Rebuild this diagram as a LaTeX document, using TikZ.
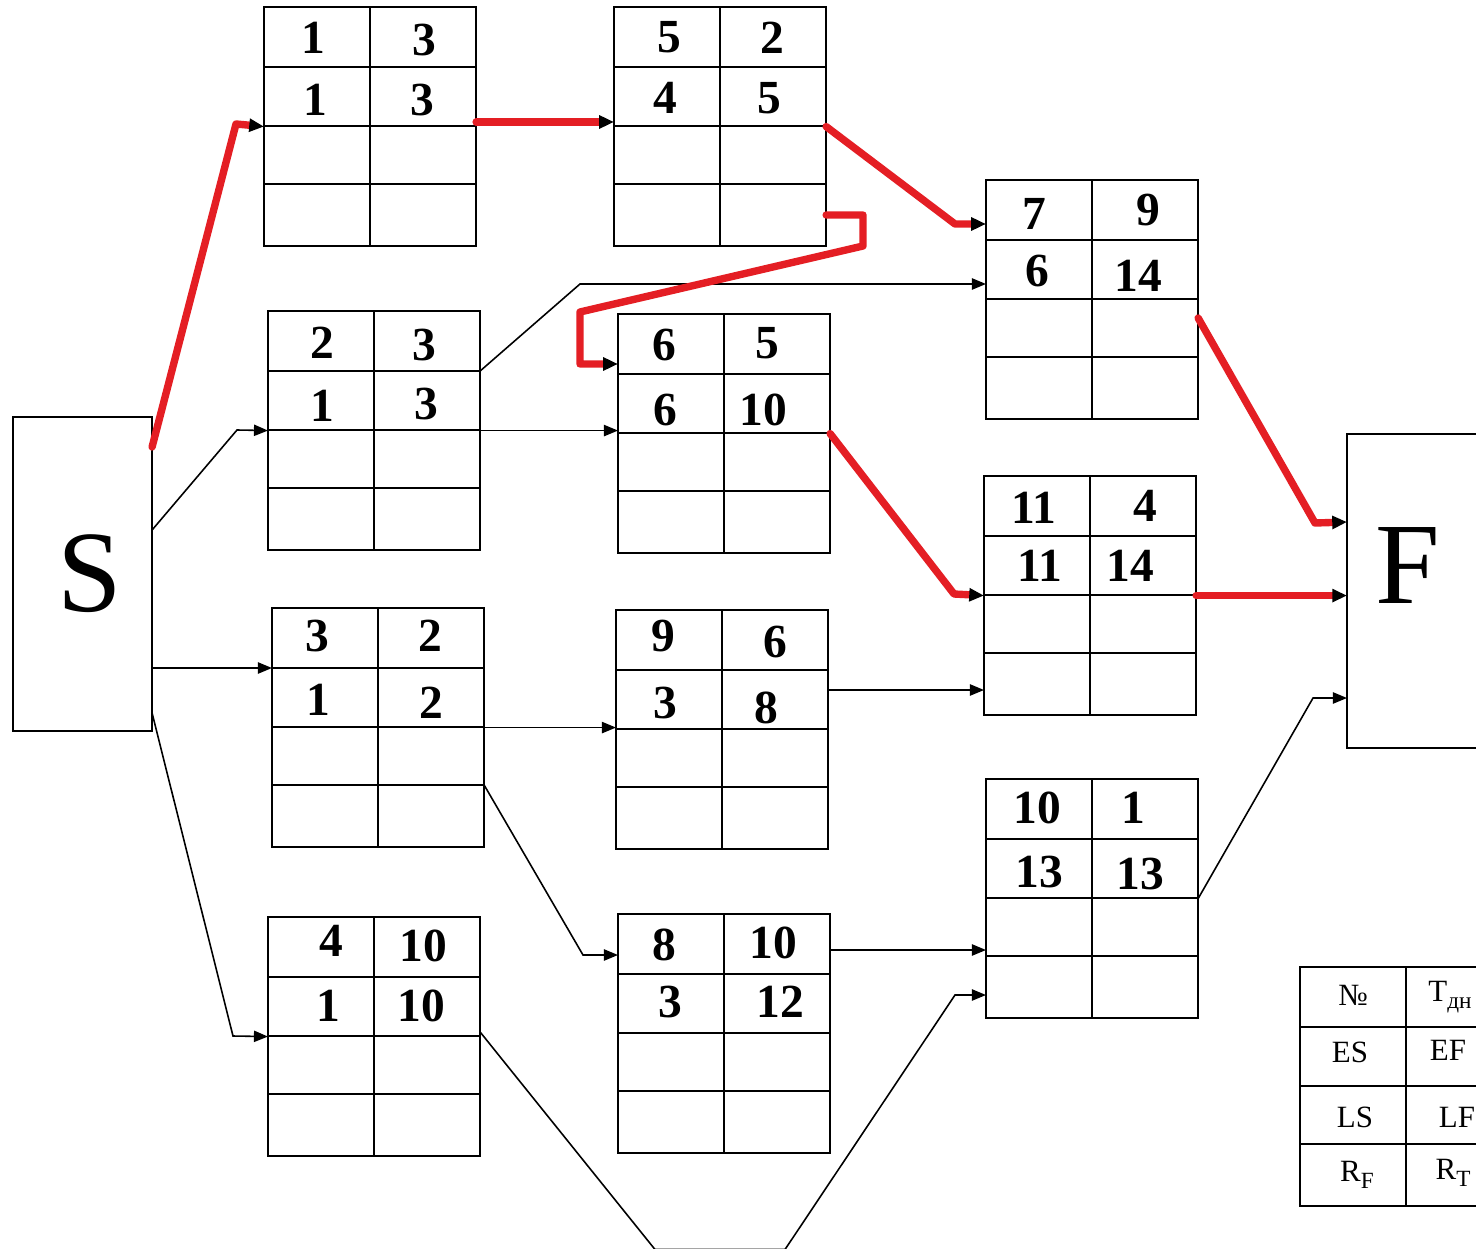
\documentclass[tikz,border=0pt]{standalone}
\usepackage{fontspec}
\setmainfont{Liberation Serif}
\usetikzlibrary{calc,arrows.meta}
\definecolor{cpred}{RGB}{228,30,36}
\newcommand\netbox[3]{%
  \node[cellbox, anchor=north west] (#1) at (#2,#3) {};
  \draw[gridline] (#1.north) -- (#1.south)
    ($(#1.north west)+(0,60)$) -- ($(#1.north east)+(0,60)$)
    ($(#1.north west)+(0,119)$) -- ($(#1.north east)+(0,119)$)
    ($(#1.north west)+(0,177)$) -- ($(#1.north east)+(0,177)$);
}
\begin{document}
\begin{tikzpicture}[x=0.01cm,y=-0.01cm,
  cellbox/.style={draw, line width=0.6pt, minimum width=2.12cm, minimum height=2.39cm, inner sep=0pt, outer sep=0pt},
  gridline/.style={line width=0.6pt},
  num/.style={font=\bfseries\fontsize{13.5}{14}\selectfont, inner sep=0pt},
  leg/.style={font=\fontsize{8.8}{9}\selectfont, inner sep=0pt},
  bigbox/.style={draw, line width=0.6pt, minimum width=1.39cm, minimum height=3.14cm, inner sep=0pt, outer sep=0pt, anchor=north west, font=\fontsize{33}{36}\selectfont},
  thinarrow/.style={line width=0.45pt, -{Triangle[length=4pt,width=3.2pt]}},
  crit/.style={cpred, line width=2.1pt, line join=round, line cap=round, -{Triangle[length=4.2pt,width=3.6pt,color=black]}},
]
\useasboundingbox (0,0) rectangle (1476,1249);
\clip (0,0) rectangle (1476,1249);

% start / finish
\node[bigbox] (S) at (13,417) {\hspace*{0.14cm}S};
\node[bigbox] (F) at (1347,434) {\raisebox{-0.12cm}[0pt][0pt]{F}\hspace*{0.18cm}};

% task tables
\netbox{t1}{264}{7}
\netbox{t5}{614}{7}
\netbox{t7}{986}{180}
\netbox{t2}{268}{311}
\netbox{t6}{618}{314}
\netbox{t11}{984}{476}
\netbox{t3}{272}{608}
\netbox{t9}{616}{610}
\netbox{t10}{986}{779}
\netbox{t4}{268}{917}
\netbox{t8}{618}{914}
\netbox{lg}{1300}{967}

% numbers
\node[num] (t1a) at (313,38) {1};  \node[num] (t1b) at (424,40) {3};
\node[num] (t1c) at (315,100) {1}; \node[num] (t1d) at (422,100) {3};
\node[num] (t5a) at (669,37) {5};  \node[num] (t5b) at (772,38) {2};
\node[num] (t5c) at (665,98) {4};  \node[num] (t5d) at (769,98) {5};
\node[num] (t7a) at (1034,214) {7}; \node[num] (t7b) at (1148,210) {9};
\node[num] (t7c) at (1037,271) {6}; \node[num] (t7d) at (1138,276) {14};
\node[num] (t2a) at (322,343) {2};  \node[num] (t2b) at (424,345) {3};
\node[num] (t2c) at (322,406) {1};  \node[num] (t2d) at (426,404) {3};
\node[num] (t6a) at (664,345) {6};  \node[num] (t6b) at (767,343) {5};
\node[num] (t6c) at (665,410) {6};  \node[num] (t6d) at (763,410) {10};
\node[num] (t11a) at (1034,508) {11}; \node[num] (t11b) at (1145,506) {4};
\node[num] (t11c) at (1040,566) {11}; \node[num] (t11d) at (1130,566) {14};
\node[num] (t3a) at (317,636) {3};  \node[num] (t3b) at (430,636) {2};
\node[num] (t3c) at (318,700) {1};  \node[num] (t3d) at (431,703) {2};
\node[num] (t9a) at (663,636) {9};  \node[num] (t9b) at (775,642) {6};
\node[num] (t9c) at (665,703) {3};  \node[num] (t9d) at (766,708) {8};
\node[num] (t10a) at (1037,808) {10}; \node[num] (t10b) at (1133,808) {1};
\node[num] (t10c) at (1039,872) {13}; \node[num] (t10d) at (1140,874) {13};
\node[num] (t4a) at (331,941) {4};  \node[num] (t4b) at (423,946) {10};
\node[num] (t4c) at (328,1006) {1}; \node[num] (t4d) at (421,1006) {10};
\node[num] (t8a) at (664,945) {8};  \node[num] (t8b) at (773,943) {10};
\node[num] (t8c) at (670,1002) {3}; \node[num] (t8d) at (780,1002) {12};

% legend texts
\node[leg] (lga) at (1353,995) {№};
\node[leg] (lgb) at (1450,997) {T\raisebox{-0.45ex}{\fontsize{6.6}{7}\selectfont дн}};
\node[leg] (lgc) at (1350,1052) {ES};
\node[leg] (lgd) at (1448,1050) {EF};
\node[leg] (lge) at (1355,1117) {LS};
\node[leg] (lgf) at (1457,1117) {LF};
\node[leg] (lgg) at (1357,1175) {R\raisebox{-0.45ex}{\fontsize{6.6}{7}\selectfont F}};
\node[leg] (lgh) at (1453,1173) {R\raisebox{-0.45ex}{\fontsize{6.6}{7}\selectfont T}};

% ordinary connectors
\draw[thinarrow] (S.east |- 0,530) -- (237,430) -- (t2.west);
\draw[thinarrow] (S.east |- 0,668) -- (t3.west |- 0,668);
\draw[thinarrow] (S.east |- 0,713) -- (233,1036) -- (t4.west);
\draw[thinarrow] (t2.north east |- 0,371) -- (580,284) -- (t7.west |- 0,284);
\draw[thinarrow] (t2.east) -- (t2.east -| t6.west);
\draw[thinarrow] (t3.east) -- (t3.east -| t9.west);
\draw[thinarrow] (t3.north east |- 0,785) -- (583,955) -- (t8.west |- 0,955);
\draw[thinarrow] (t9.north east |- 0,690) -- (t11.west |- 0,690);
\draw[thinarrow] (t8.north east |- 0,950) -- (t10.west |- 0,950);
\draw[thinarrow] (t4.north east |- 0,1032) -- (655,1249.5) -- (785,1249.5) -- (955,995) -- (t10.west |- 0,995);
\draw[thinarrow] (t10.east) -- (1313,698) -- (F.west |- 0,698);

% critical path
\draw[crit] (S.north east |- 0,447) -- (236,124) -- (t1.west);
\draw[crit] (t1.east |- 0,122) -- (t5.west |- 0,122);
\draw[crit] (t5.east) -- (955,224) -- (t7.west |- 0,224);
\draw[crit] (t5.south east |- 0,215) -- (863,215) -- (863,246) -- (580,312) -- (580,364) -- (t6.west |- 0,364);
\draw[crit] (t7.north east |- 0,318) -- (1315,523) -- (F.west |- 0,522);
\draw[crit] (t6.east) -- (954,594) -- (t11.west);
\draw[crit] (t11.east) -- (t11.east -| F.west);
\end{tikzpicture}
\end{document}
